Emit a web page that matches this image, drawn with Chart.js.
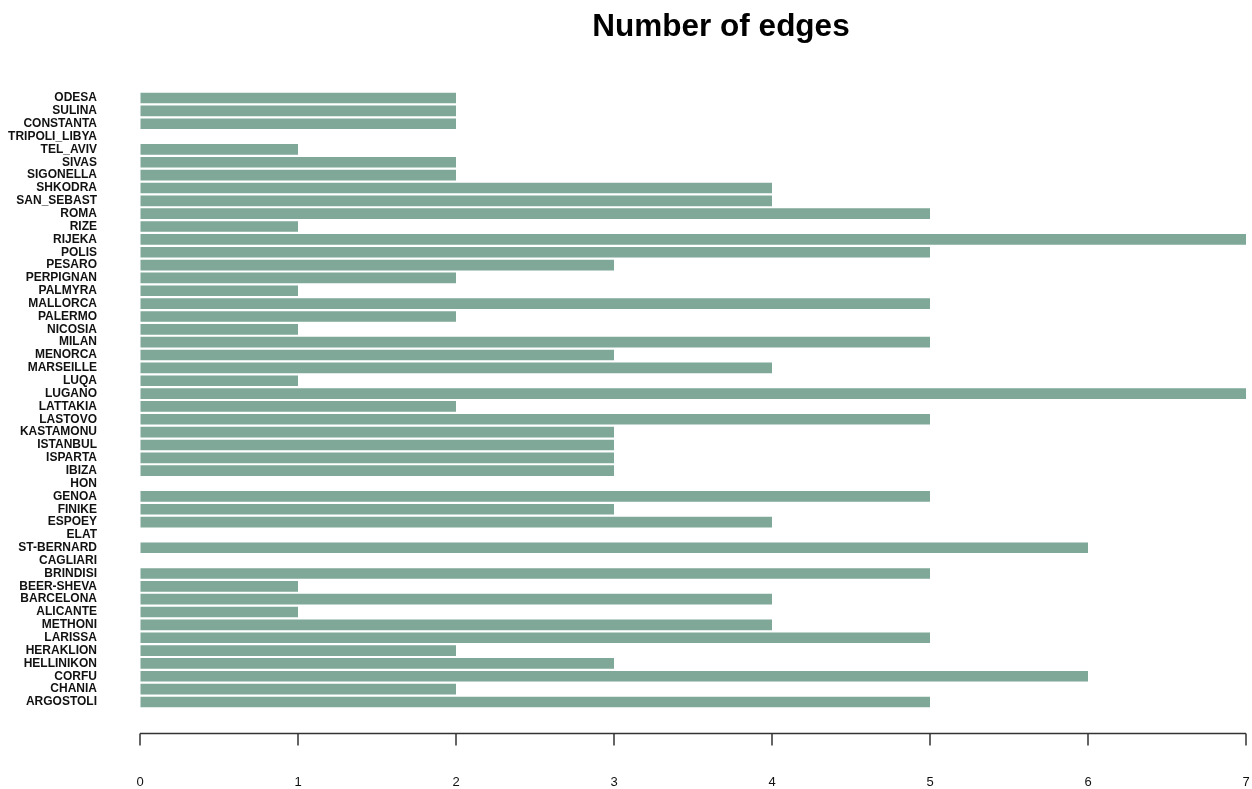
<!DOCTYPE html>
<html>
<head>
<meta charset="utf-8">
<script src="https://cdn.jsdelivr.net/npm/chart.js@4"></script>
<style>
  html, body { margin: 0; padding: 0; background: #fff; }
  #wrap { width: 1252px; height: 789px; position: relative; }
</style>
</head>
<body>
<div id="wrap"><canvas id="c"></canvas></div>
<script>
// cities, top to bottom as drawn
const cities = [
    "ODESA", "SULINA", "CONSTANTA", "TRIPOLI_LIBYA", "TEL_AVIV", "SIVAS",
    "SIGONELLA", "SHKODRA", "SAN_SEBAST", "ROMA", "RIZE", "RIJEKA",
    "POLIS", "PESARO", "PERPIGNAN", "PALMYRA", "MALLORCA", "PALERMO",
    "NICOSIA", "MILAN", "MENORCA", "MARSEILLE", "LUQA", "LUGANO",
    "LATTAKIA", "LASTOVO", "KASTAMONU", "ISTANBUL", "ISPARTA", "IBIZA",
    "HON", "GENOA", "FINIKE", "ESPOEY", "ELAT", "ST-BERNARD",
    "CAGLIARI", "BRINDISI", "BEER-SHEVA", "BARCELONA", "ALICANTE", "METHONI",
    "LARISSA", "HERAKLION", "HELLINIKON", "CORFU", "CHANIA", "ARGOSTOLI",
];
const edges = [
    2, 2, 2, 0, 1, 2,
    2, 4, 4, 5, 1, 7,
    5, 3, 2, 1, 5, 2,
    1, 5, 3, 4, 1, 7,
    2, 5, 3, 3, 3, 3,
    0, 5, 3, 4, 0, 6,
    0, 5, 1, 4, 1, 4,
    5, 2, 3, 6, 2, 5,
];
const xTicks = [0, 1, 2, 3, 4, 5, 6, 7];
const titleText = "Number of edges";

const BAR_COLOR = "rgb(127, 168, 152)";
const FONT = "'Liberation Sans', Arial, sans-serif";

// R-style detached x axis + title drawn on top
const rAxis = {
    id: "rAxis",
    afterDraw(chart) {
        const ctx = chart.ctx;
        const xs = chart.scales.x;
        const y = chart.chartArea.bottom + 25;
        ctx.save();
        ctx.strokeStyle = "#333";
        ctx.lineWidth = 1.5;
        ctx.beginPath();
        ctx.moveTo(xs.getPixelForValue(xTicks[0]), y);
        ctx.lineTo(xs.getPixelForValue(xTicks[xTicks.length - 1]), y);
        xTicks.forEach((t) => {
            const px = xs.getPixelForValue(t);
            ctx.moveTo(px, y);
            ctx.lineTo(px, y + 12);
        });
        ctx.stroke();

        ctx.fillStyle = "#000";
        ctx.font = "bold 31.5px " + FONT;
        ctx.textAlign = "center";
        ctx.textBaseline = "middle";
        ctx.fillText(titleText, 721, 27);
        ctx.restore();
    },
};

new Chart(document.getElementById("c"), {
    type: "bar",
    data: {
        labels: cities,
        datasets: [{
            data: edges,
            backgroundColor: BAR_COLOR,
            borderWidth: 0,
            barPercentage: 0.83,
            categoryPercentage: 1,
        }],
    },
    options: {
        indexAxis: "y",
        responsive: true,
        maintainAspectRatio: false,
        animation: false,
        layout: { padding: { top: 91.6, right: 6, left: 0, bottom: 0 } },
        plugins: {
            legend: { display: false },
            tooltip: { enabled: false },
        },
        scales: {
            y: {
                grid: { display: false, drawTicks: false },
                border: { display: false },
                ticks: {
                    autoSkip: false,
                    padding: 43,
                    color: "#111",
                    font: { family: FONT, size: 12, weight: "bold" },
                },
                afterFit(scale) { scale.width = 140; },
            },
            x: {
                min: 0,
                max: 7,
                grid: { drawOnChartArea: false, drawTicks: false },
                border: { display: false },
                ticks: {
                    stepSize: 1,
                    padding: 66,
                    color: "#111",
                    font: { family: FONT, size: 13 },
                },
                afterFit(scale) {
                    scale.height = 80.6;
                    scale.paddingLeft = 0;
                    scale.paddingRight = 0;
                },
            },
        },
    },
    plugins: [rAxis],
});
</script>
</body>
</html>
